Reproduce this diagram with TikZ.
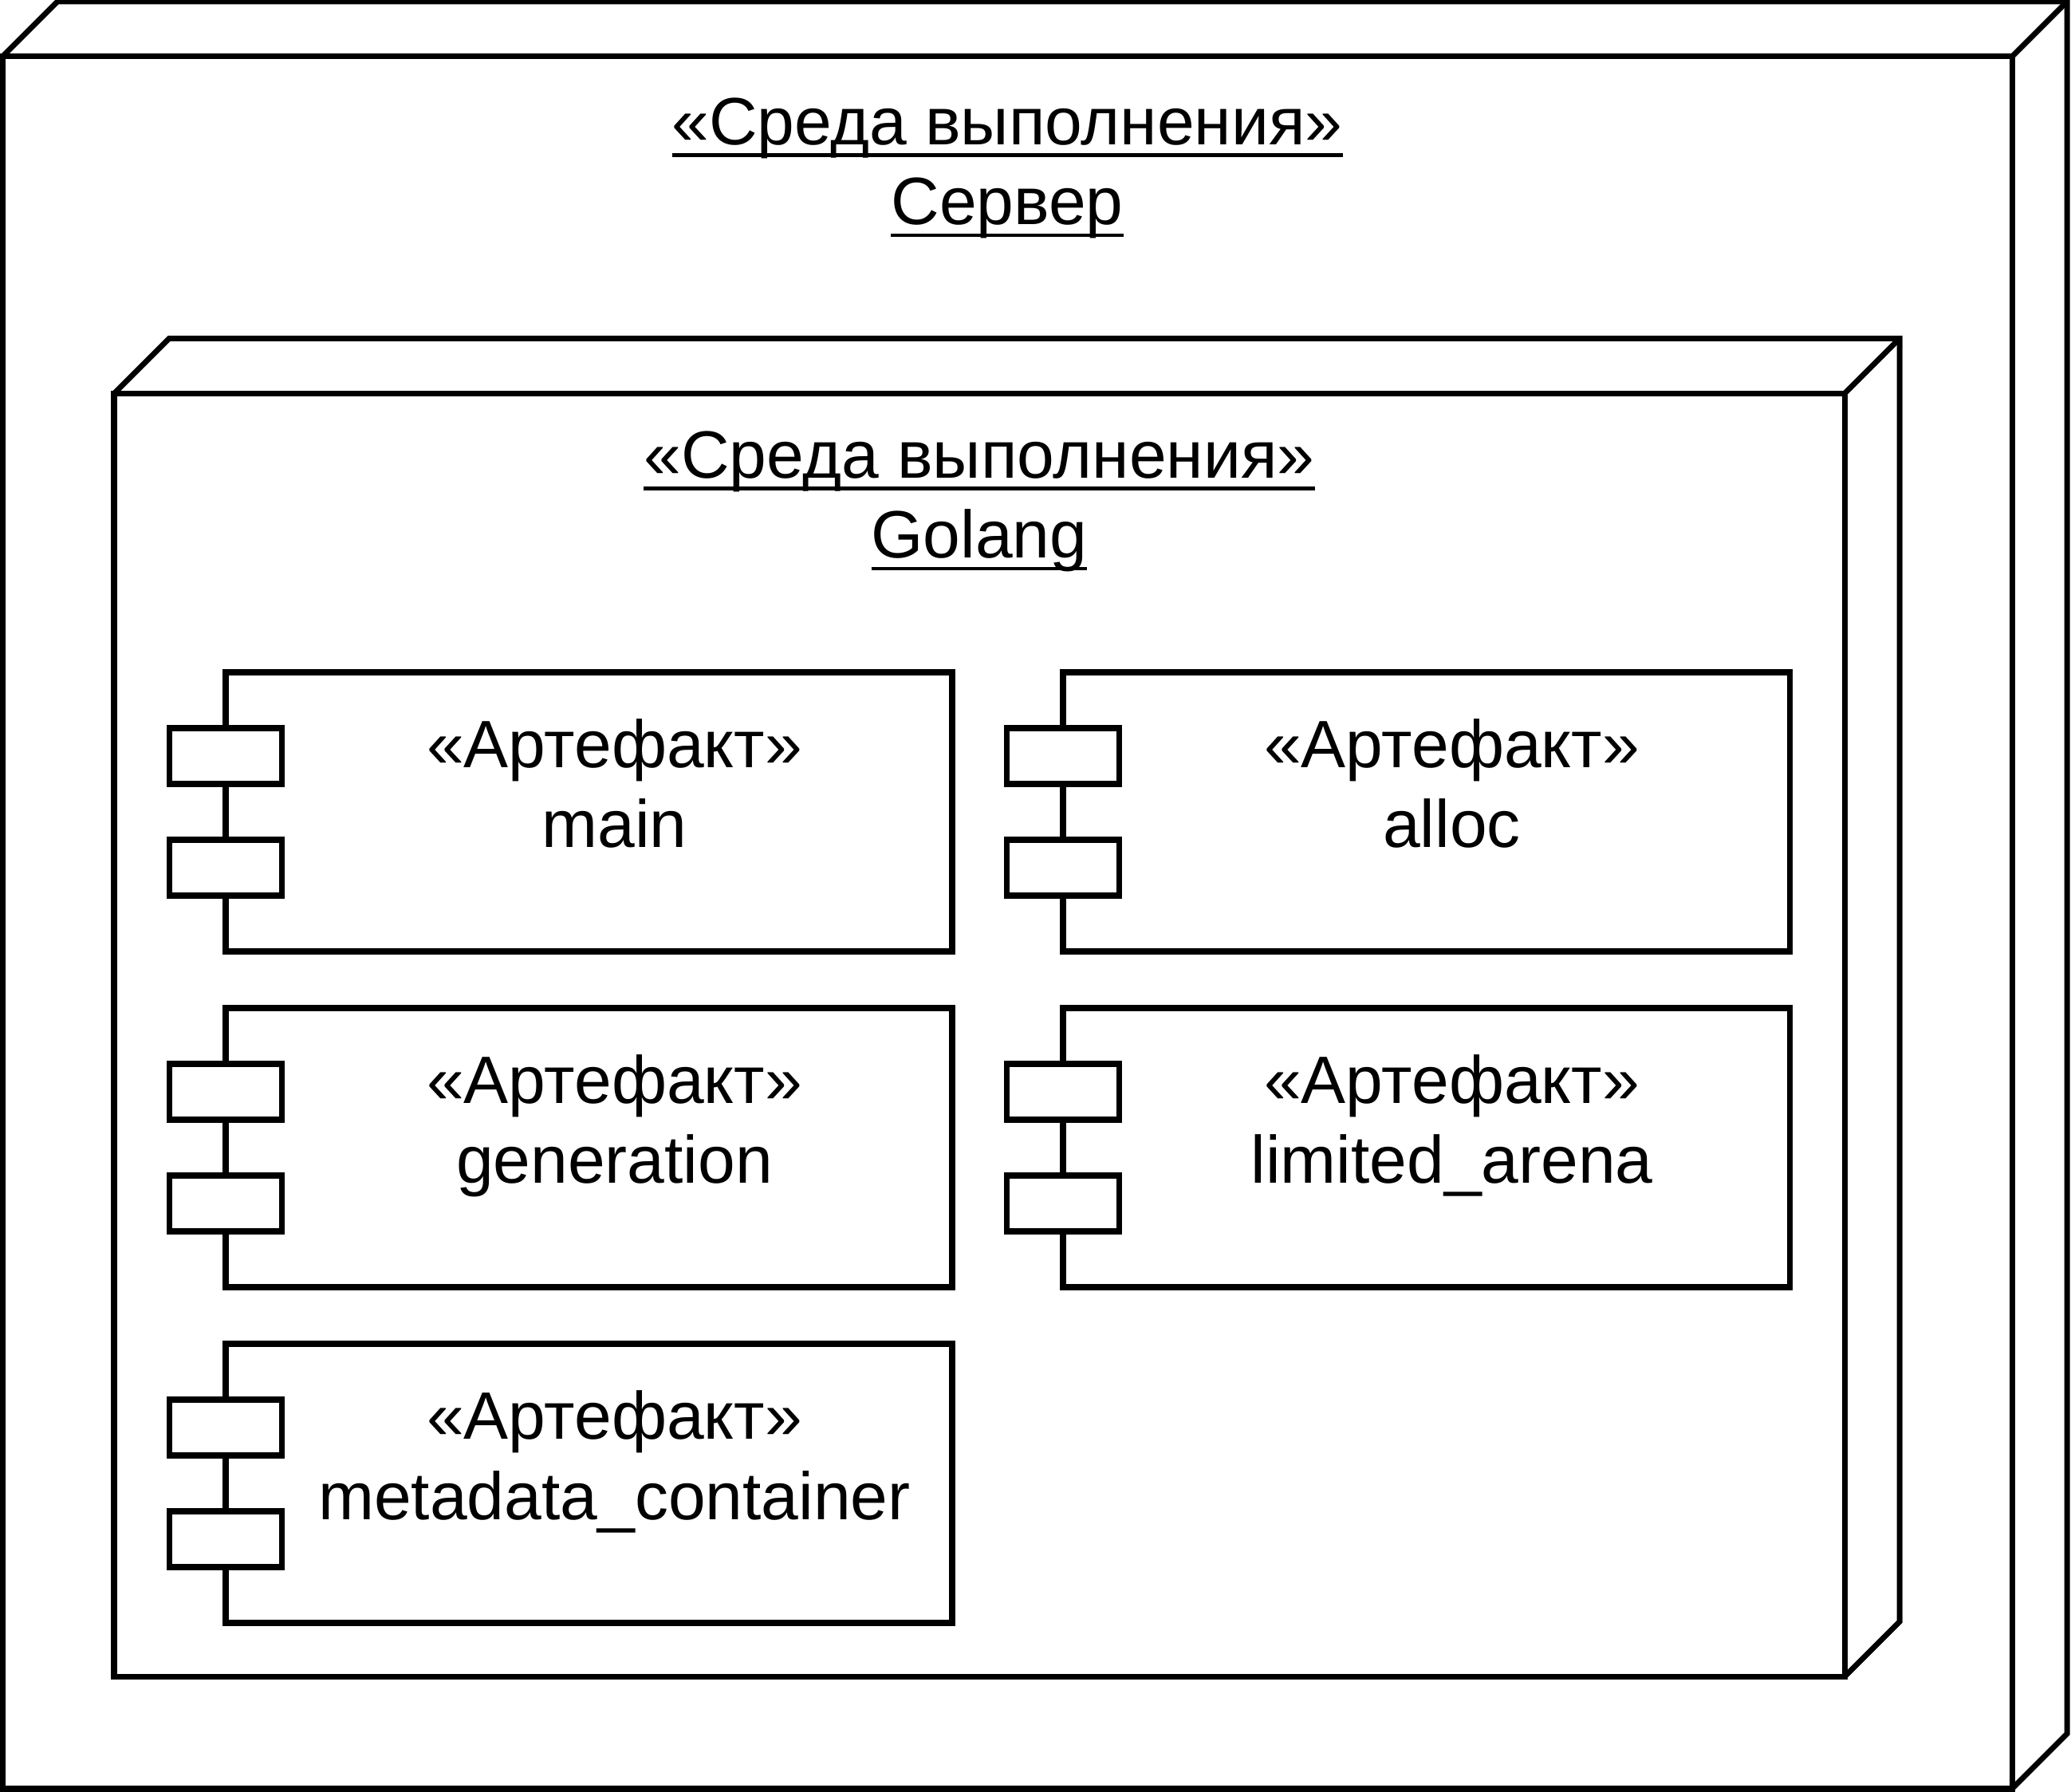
\documentclass[tikz,border=0pt]{standalone}
\usepackage{fontspec}
\setmainfont{Liberation Sans}
\usepackage{tikz}
\usetikzlibrary{positioning}

\newcommand{\ulin}[1]{\setbox0\hbox{#1}\rlap{\rule[-4.3pt]{\wd0}{1.25pt}}\box0}

\tikzset{
    every node/.style={inner sep=0pt, outer sep=0pt},
    envbox/.style={draw, rectangle, line width=2pt},
    artbody/.style={draw, rectangle, line width=2pt, minimum width=9.11cm, minimum height=3.5cm},
    port/.style={draw, rectangle, fill=white, line width=2pt, minimum width=1.41cm, minimum height=0.7cm},
    lbl/.style={align=center, anchor=base, font=\fontsize{23.9}{28.6}\selectfont}
}

\begin{document}
\begin{tikzpicture}[line width=2pt, node distance=0.71cm and 1.39cm]
        \useasboundingbox (0,0) rectangle (25.97,-22.47);
        % server
        \node[envbox, minimum width=25.2cm, minimum height=21.72cm] (Srv) at (12.63,-11.57) {};
        \draw (Srv.north west) -- ++(0.69,0.69) -| ([shift={(0.69,0.69)}]Srv.south east) -- (Srv.south east);
        \draw (Srv.north east) -- ++(0.69,0.69);
        \node[lbl] (SrvT) at ([yshift=-2.11cm]Srv.north) {\ulin{«Среда выполнения»}\\\ulin{Сервер}};
        % golang
        \node[envbox, minimum width=21.7cm, minimum height=16.09cm] (Go) at (12.28,-12.98) {};
        \draw (Go.north west) -- ++(0.69,0.69) -| ([shift={(0.69,0.69)}]Go.south east) -- (Go.south east);
        \draw (Go.north east) -- ++(0.69,0.69);
        \node[lbl] (GoT) at ([yshift=-2.065cm]Go.north) {\ulin{«Среда выполнения»}\\\ulin{Golang}};
        % artefacts
        \node[artbody] (main) at (7.385,-10.18) {};
        \node[artbody, right=of main] (alloc) {};
        \node[artbody, below=of main] (gen) {};
        \node[artbody, below=of alloc] (arena) {};
        \node[artbody, below=of gen] (meta) {};
        \node[port] (mainA) at ([yshift=0.7cm]main.west) {};
        \node[port] (mainB) at ([yshift=-0.7cm]main.west) {};
        \node[port] (allocA) at ([yshift=0.7cm]alloc.west) {};
        \node[port] (allocB) at ([yshift=-0.7cm]alloc.west) {};
        \node[port] (genA) at ([yshift=0.7cm]gen.west) {};
        \node[port] (genB) at ([yshift=-0.7cm]gen.west) {};
        \node[port] (arenaA) at ([yshift=0.7cm]arena.west) {};
        \node[port] (arenaB) at ([yshift=-0.7cm]arena.west) {};
        \node[port] (metaA) at ([yshift=0.7cm]meta.west) {};
        \node[port] (metaB) at ([yshift=-0.7cm]meta.west) {};
        \node[lbl] (mainT) at ([xshift=0.32cm, yshift=-2.2cm]main.north) {«Артефакт»\\main};
        \node[lbl] (allocT) at ([xshift=0.32cm, yshift=-2.2cm]alloc.north) {«Артефакт»\\alloc};
        \node[lbl] (genT) at ([xshift=0.32cm, yshift=-2.2cm]gen.north) {«Артефакт»\\generation};
        \node[lbl] (arenaT) at ([xshift=0.32cm, yshift=-2.2cm]arena.north) {«Артефакт»\\limited\_arena};
        \node[lbl] (metaT) at ([xshift=0.32cm, yshift=-2.2cm]meta.north) {«Артефакт»\\metadata\_container};
    \end{tikzpicture}
\end{document}
